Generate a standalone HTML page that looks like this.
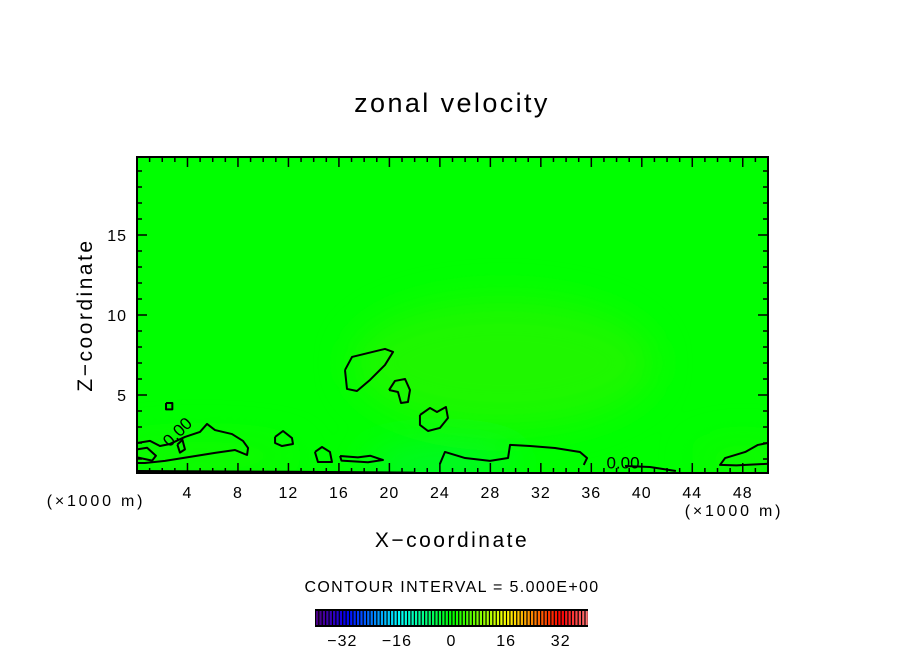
<!DOCTYPE html>
<html><head><meta charset="utf-8"><style>
body{margin:0;background:#fff;}
svg text{font-family:"Liberation Sans",sans-serif;fill:#000;}
</style></head><body>
<svg id="chart" width="904" height="654" viewBox="0 0 904 654" xmlns="http://www.w3.org/2000/svg">
<defs>
<filter id="blur" x="-50%" y="-50%" width="200%" height="200%"><feGaussianBlur stdDeviation="18"/></filter>
<clipPath id="clip"><rect x="137" y="157" width="631" height="316"/></clipPath>
</defs>
<text x="452" y="112" font-size="27" letter-spacing="2.4" text-anchor="middle">zonal velocity</text>
<g clip-path="url(#clip)">
<rect x="137" y="157" width="631" height="316" fill="#00ff00"/>
<g id="shade" filter="url(#blur)"></g>
<g id="contours"></g>
</g>
<rect x="137" y="157" width="631" height="316" fill="none" stroke="#000" stroke-width="2"/>
<g id="axes"></g>
<text x="452" y="547" font-size="21" letter-spacing="2.5" text-anchor="middle">X−coordinate</text>
<text transform="translate(92,315) rotate(-90)" font-size="21" letter-spacing="2.5" text-anchor="middle">Z−coordinate</text>
<text x="96" y="506" font-size="16" letter-spacing="2.8" text-anchor="middle">(×1000 m)</text>
<text x="734" y="516" font-size="16" letter-spacing="2.8" text-anchor="middle">(×1000 m)</text>
<text x="452" y="592" font-size="16" letter-spacing="1.35" text-anchor="middle">CONTOUR INTERVAL = 5.000E+00</text>
<g id="colorbar"></g>
</svg>
<script>
const xTicks=[4,8,12,16,20,24,28,32,36,40,44,48];
const zTicks=[5,10,15];
const cbTicks=[-32,-16,0,16,32];
const cbMin=-40, cbMax=40, cbStep=1;
const contourValue=0;
const contourLines=[
 [[16.48,6.56],[17.04,7.38],[19.65,7.88],[20.29,7.69],[19.65,6.88],[18.46,5.94],[17.43,5.25],[16.64,5.38],[16.48,6.56]],
 [[19.97,5.31],[20.44,5.88],[21.24,6.0],[21.63,5.31],[21.47,4.56],[20.92,4.5],[20.68,5.19],[19.97,5.31]],
 [[22.42,3.75],[23.22,4.19],[23.77,3.94],[24.48,4.25],[24.64,3.56],[24.0,2.94],[23.06,2.75],[22.42,3.13],[22.42,3.75]],
 [[2.3,4.5],[2.8,4.5],[2.8,4.1],[2.3,4.1],[2.3,4.5]],
 [[10.94,2.38],[11.57,2.75],[12.28,2.31],[12.36,1.94],[11.49,1.81],[10.94,2.0],[10.94,2.38]],
 [[0,2.0],[1.03,2.13],[1.82,1.81],[2.61,1.94],[3.8,2.38],[4.99,2.69],[5.55,3.19],[6.18,2.81],[7.53,2.56],[8.4,2.13],[8.8,1.69],[8.72,1.25],[7.77,1.56],[6.18,1.38],[4.2,1.13],[2.22,0.88],[0.63,0.75],[0,0.75]],
 [[0,1.6],[0.8,1.7],[1.5,1.2],[1.2,0.9],[0,1.1]],
 [[3.2,1.9],[3.6,2.2],[3.8,1.6],[3.4,1.4],[3.2,1.9]],
 [[24.0,0.69],[24.4,1.44],[26.0,1.06],[27.97,0.88],[29.4,1.06],[29.56,1.88],[31.14,1.81],[33.12,1.69],[35.1,1.44],[35.66,1.06],[35.4,0.63]],
 [[38.67,0.56],[40.65,0.5],[42.7,0.25]],
 [[50,2.0],[49.2,1.88],[48.2,1.44],[46.6,1.06],[46.2,0.63],[47.5,0.6],[50,0.7]],
 [[14.1,1.44],[14.66,1.75],[15.29,1.44],[15.45,0.81],[14.34,0.81],[14.1,1.44]],
 [[16.09,1.19],[17.5,1.1],[18.5,1.2],[19.49,0.94],[18.3,0.8],[16.2,0.9],[16.09,1.19]],
 [[0,0.25],[12,0.2],[22,0.15]]
];
const shadeBlobs=[[29,7,12,4,'#3cf000',0.5],[24,0.6,6,1,'#00f060',0.5],[5,1.2,8,1,'#30f000',0.4],[48,1,4,1,'#30f000',0.4]];
const NS='http://www.w3.org/2000/svg';
const X0=137,X1=768,Y0=473,Y1=157,XMIN=0,XMAX=50,ZMIN=0.125,ZMAX=19.875;
function sx(x){return X0+(x-XMIN)/(XMAX-XMIN)*(X1-X0);}
function sy(z){return Y0-(z-ZMIN)/(ZMAX-ZMIN)*(Y0-Y1);}
function mk(t,a,p){const e=document.createElementNS(NS,t);for(const k in a)e.setAttribute(k,a[k]);(p||document.getElementById('chart')).appendChild(e);return e;}
const shade=document.getElementById('shade');
shadeBlobs.forEach(b=>{const e=mk('ellipse',{cx:sx(b[0]),cy:sy(b[1]),rx:b[2]*12.62,ry:b[3]*16,fill:b[4],opacity:b[5]},shade);

});
const cg=document.getElementById('contours');
contourLines.forEach(l=>{const e=mk('polyline',{points:l.map(p=>sx(p[0])+','+sy(p[1])).join(' '),fill:'none',stroke:'#000','stroke-width':2,'stroke-linejoin':'round'},cg);

});
[[2.6,1.7,-45],[37.2,0.4,0]].forEach(l=>{const t=mk('text',{x:sx(l[0]),y:sy(l[1]),'font-size':17,transform:'rotate('+l[2]+' '+sx(l[0])+' '+sy(l[1])+')'},cg);t.textContent=contourValue.toFixed(2);

});
const ax=document.getElementById('axes');
for(let x=1;x<50;x++){const major=x%4===0;
 mk('line',{x1:sx(x),x2:sx(x),y1:Y0,y2:Y0-(major?10:5),stroke:'#000','stroke-width':1.5},ax);
 mk('line',{x1:sx(x),x2:sx(x),y1:Y1,y2:Y1+(major?10:5),stroke:'#000','stroke-width':1.5},ax);}
xTicks.forEach(x=>{const t=mk('text',{x:sx(x),y:498,'font-size':16,'letter-spacing':1,'text-anchor':'middle'},ax);t.textContent=x;

});
for(let z=1;z<20;z++){const major=z%5===0;
 mk('line',{x1:X0,x2:X0+(major?10:5),y1:sy(z),y2:sy(z),stroke:'#000','stroke-width':1.5},ax);
 mk('line',{x1:X1,x2:X1-(major?10:5),y1:sy(z),y2:sy(z),stroke:'#000','stroke-width':1.5},ax);}
zTicks.forEach(z=>{const t=mk('text',{x:127,y:sy(z)+6,'font-size':16,'letter-spacing':1,'text-anchor':'end'},ax);t.textContent=z;

});
const cb=document.getElementById('colorbar');
const CB0=315,CB1=588,CBY=609,CBH=18;
function cbx(v){return CB0+(v-cbMin)/(cbMax-cbMin)*(CB1-CB0);}
function col(v){let h,l=50;
 if(v<=0){h=120+(-v/40)*155;if(v<-30)l=50-(-v-30)*2.5;}
 else{h=Math.max(0,120-v/32*120);if(v>32)l=50+(v-32)*3;}
 return 'hsl('+h+',100%,'+l+'%)';}
mk('rect',{x:CB0,y:CBY,width:CB1-CB0,height:CBH,fill:'#000'},cb);
for(let v=cbMin;v<cbMax;v+=cbStep){const r=mk('rect',{x:cbx(v)+1,y:CBY+2,width:(cbx(v+cbStep)-cbx(v))-1.2,height:CBH-4,fill:col(v+cbStep/2)},cb);

}
cbTicks.forEach(v=>{const t=mk('text',{x:cbx(v),y:646,'font-size':16,'letter-spacing':1,'text-anchor':'middle'},cb);t.textContent=v<0?'−'+(-v):v;

});
</script>
</body></html>
